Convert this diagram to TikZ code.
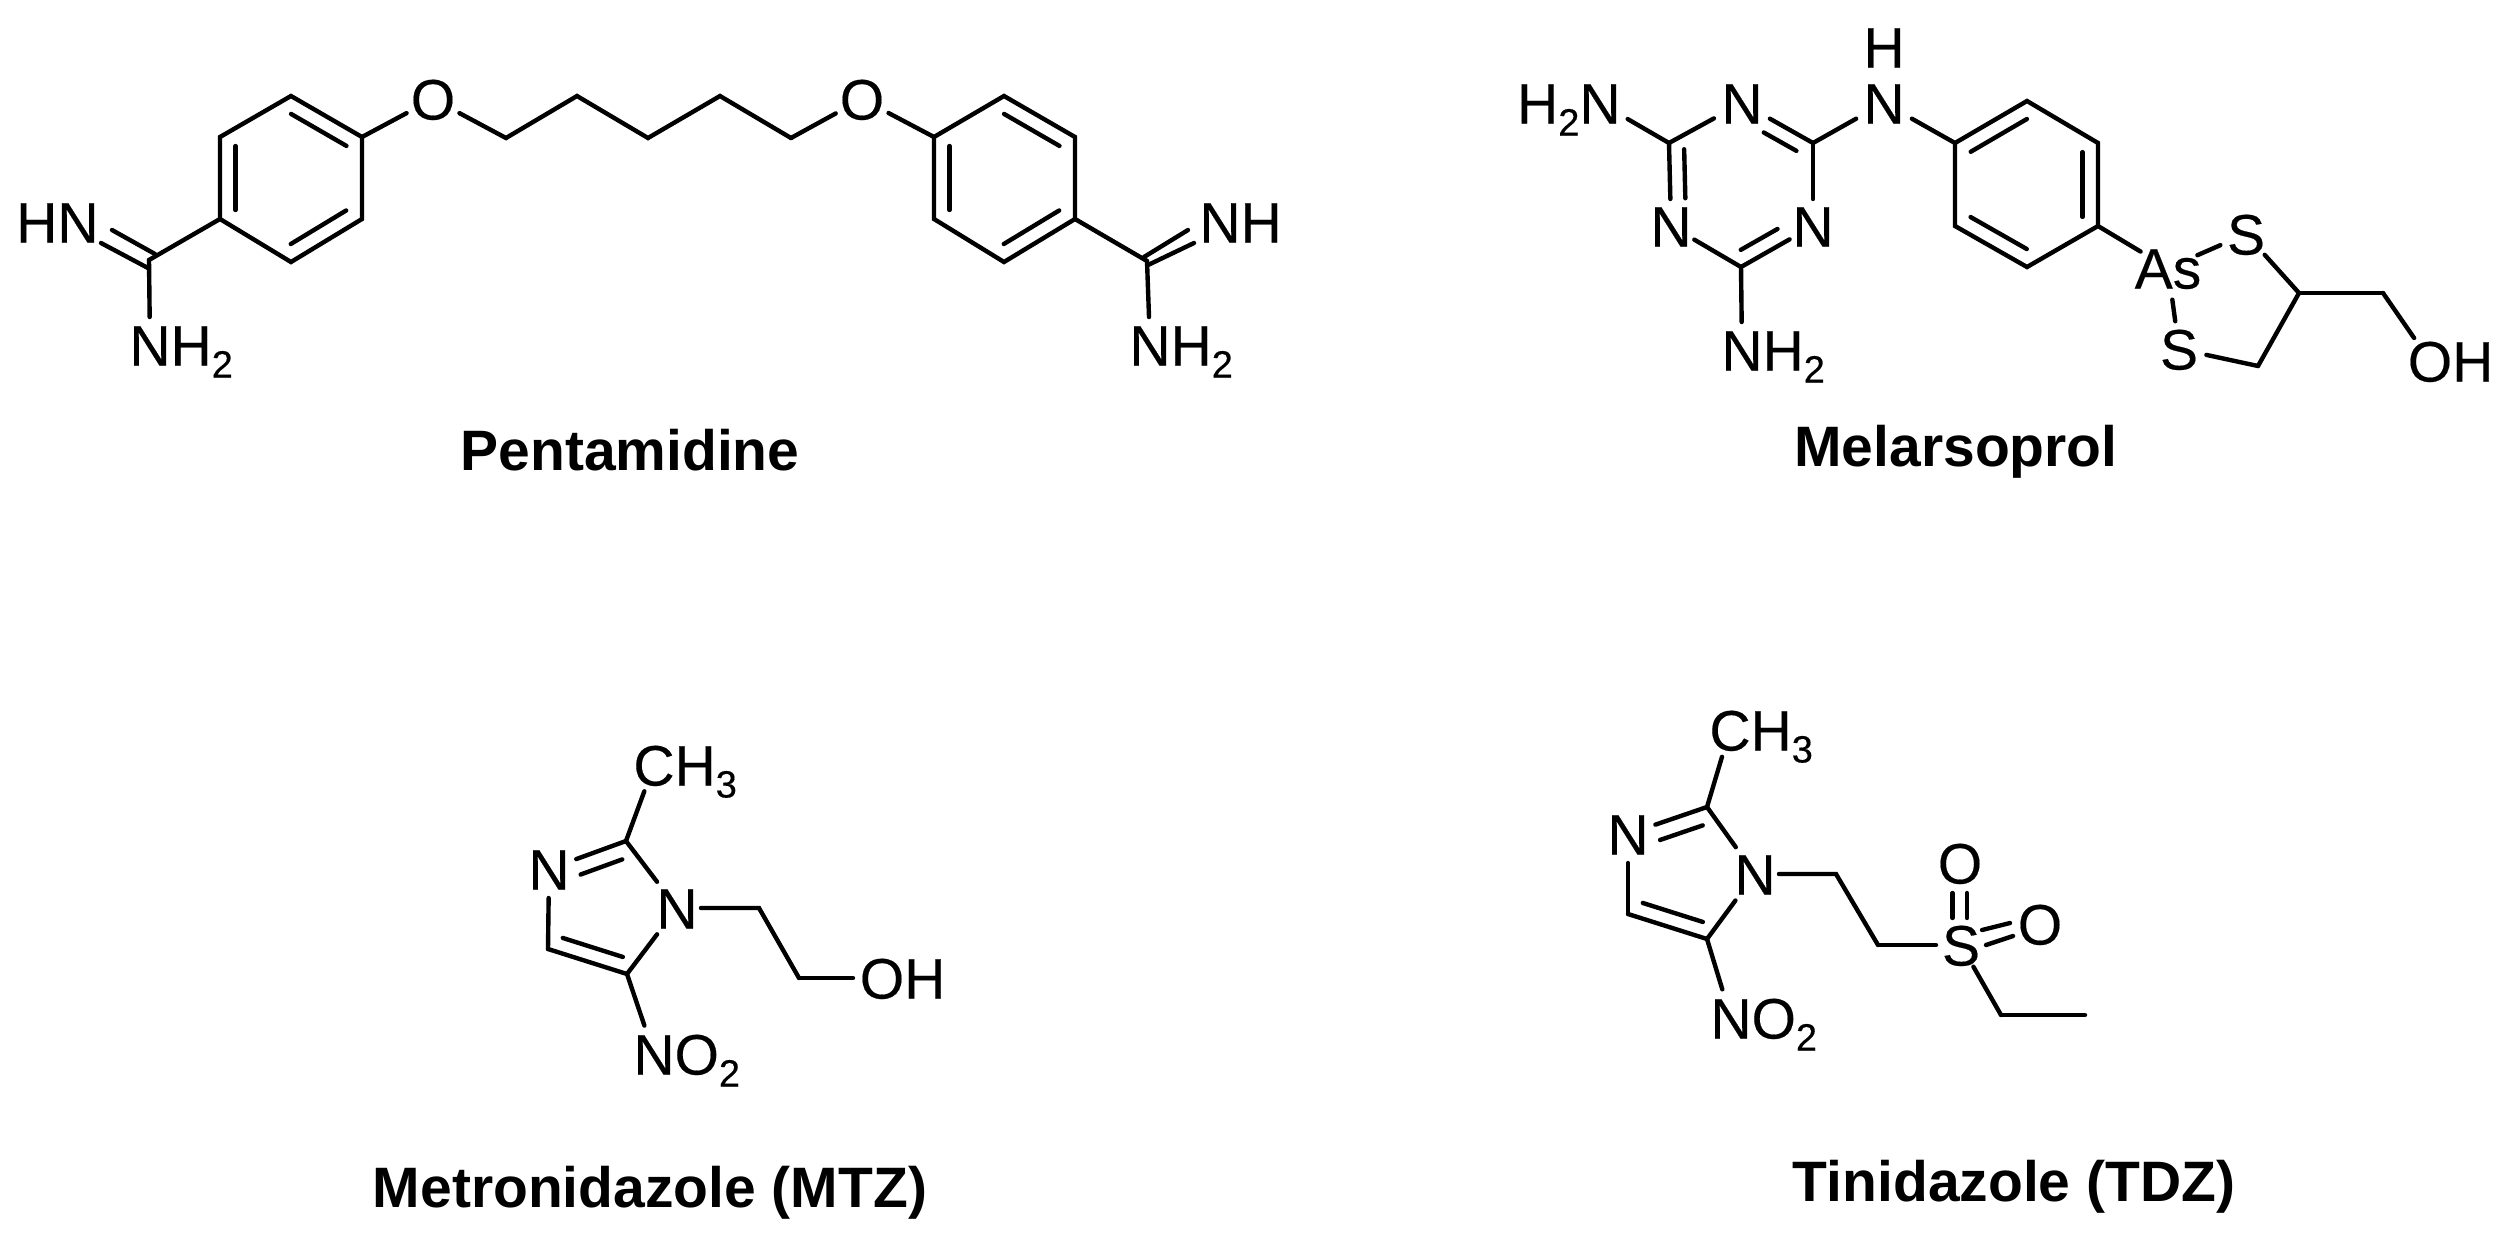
\documentclass[tikz,border=0pt]{standalone}
\usepackage{fontspec}
\setmainfont{Liberation Sans}
\usetikzlibrary{calc}
\newcommand\atm[1]{\makebox[0pt][c]{#1}}
\newcommand\sbs[1]{\raisebox{-12pt}{\fontsize{38}{38}\selectfont\addfontfeature{FakeBold=0.3}#1}}
% second stroke of a double bond: from a to b, fractions t1..t2, offset to the left of travel
\newcommand\inb[5]{\draw[bond] ($(#1)!#3!(#2)!#5pt!90:(#2)$) -- ($(#1)!#4!(#2)!#5pt!90:(#2)$);}
\tikzset{
  bond/.style={line width=4.4pt,line cap=round,line join=miter,black},
  atom/.style={circle,inner sep=0pt,outer sep=0pt,minimum size=60pt,
    font=\fontsize{57}{57}\selectfont\addfontfeature{FakeBold=0.3},text height=41pt,text depth=0pt},
  rad/.style={minimum size=2*#1 pt},
  title/.style={anchor=base,inner sep=0pt,font=\fontsize{57}{57}\selectfont\bfseries}
}
\begin{document}
\begin{tikzpicture}[x=1pt,y=-1pt]
\useasboundingbox (0,0) rectangle (2508,1240);
\fill[white] (0,0) rectangle (2508,1240);
%%% Pentamidine
\foreach \n/\x/\y in {A1/291/96,A2/362/137,A3/362/219,A4/291/262,A5/220/219,A6/220/137,
  c1/506/138,c2/577/96,c3/648/138,c4/720/96,c5/791/138,
  B1/934/137,B2/1004/96,B3/1075/137,B4/1075/219,B5/1004/262,B6/934/219,
  L/149/260,R/1147/261,
  La/101/243,Lb/148/268,Lc/112/230,Ld/155/254,
  Ra/1144/257,Rb/1188/230,Rc/1148/265,Rd/1194/243}
  {\coordinate (\n) at (\x,\y);}
\node[atom] (O1) at (433,99) {\atm{O}};
\node[atom] (O2) at (862,99) {\atm{O}};
\node[atom] (hn) at (78,222) {\atm{\llap{H}N}};
\node[atom] (nhR) at (1220,222) {\atm{N\rlap{H}}};
\node[atom,rad=28] (nh2L) at (150,345) {\atm{N\rlap{H\sbs{2}}}};
\node[atom,rad=28] (nh2R) at (1150,345) {\atm{N\rlap{H\sbs{2}}}};
\draw[bond] (A1)--(A2)--(A3)--(A4)--(A5)--(A6)--cycle;
\inb{A1}{A2}{.11}{.89}{-15.5}
\inb{A3}{A4}{.11}{.89}{-15.5}
\inb{A5}{A6}{.11}{.89}{-15.5}
\draw[bond] (B1)--(B2)--(B3)--(B4)--(B5)--(B6)--cycle;
\inb{B2}{B3}{.11}{.89}{-15.5}
\inb{B4}{B5}{.11}{.89}{-15.5}
\inb{B6}{B1}{.11}{.89}{-15.5}
\draw[bond] (A2)--(O1);
\draw[bond] (O1)--(c1)--(c2)--(c3)--(c4)--(c5);
\draw[bond] (c5)--(O2);
\draw[bond] (O2)--(B1);
\draw[bond] (A5)--(L);
\draw[bond] (L)--(nh2L);
\draw[bond] (La)--(Lb);
\draw[bond] (Lc)--(Ld);
\draw[bond] (B4)--(R);
\draw[bond] (R)--(nh2R);
\draw[bond] (Ra)--(Rb);
\draw[bond] (Rc)--(Rd);
\node[title] (t1) at (630,470) {Pentamidine};
%%% Melarsoprol
\foreach \n/\x/\y in {T1/1669/143,T2/1813/143,T3/1741/267,
  D1/1955/143,D2/2027/101,D3/2098/143,D4/2098/226,D5/2027/267,D6/1955/226,
  E1/2299/293,E2/2258/366,E3/2383/293}
  {\coordinate (\n) at (\x,\y);}
\node[atom,rad=32] (h2n) at (1600,103) {\atm{\llap{H\sbs{2}}N}};
\node[atom,rad=32] (Nt) at (1742,103) {\atm{N}};
\node[atom,rad=32] (Nh) at (1884,103) {\atm{N}};
\node[atom] (Hh) at (1884,47) {\atm{H}};
\node[atom,rad=27] (Nr) at (1813,226) {\atm{N}};
\node[atom,rad=27] (Nl) at (1671,226) {\atm{N}};
\node[atom,rad=28] (nh2M) at (1742,350) {\atm{N\rlap{H\sbs{2}}}};
\node[atom,rad=32] (As) at (2168,268) {\atm{As}};
\node[atom,rad=28] (St) at (2246,234) {\atm{S}};
\node[atom,rad=28] (Sb) at (2179,349) {\atm{S}};
\node[atom,rad=28] (OHm) at (2430,361) {\atm{O\rlap{H}}};
\draw[bond] (h2n)--(T1);
\draw[bond] (T1)--(Nt);
\draw[bond] (Nt)--(T2);
\draw[bond] (T2)--(Nh);
\draw[bond] (T2)--(Nr);
\draw[bond] (Nr)--(T3);
\draw[bond] (T3)--(Nl);
\draw[bond] (Nl)--(T1);
\draw[bond] (T3)--(nh2M);
\inb{Nt}{T2}{.41}{.87}{-15}
\inb{T3}{Nr}{.10}{.61}{15}
\inb{T1}{Nl}{.08}{.67}{15}
\draw[bond] (Nh)--(D1);
\draw[bond] (D1)--(D2)--(D3)--(D4)--(D5)--(D6)--cycle;
\inb{D1}{D2}{.11}{.89}{-15.5}
\inb{D3}{D4}{.11}{.89}{-15.5}
\inb{D5}{D6}{.11}{.89}{-15.5}
\draw[bond] (D4)--(As);
\draw[bond] (As)--(St);
\draw[bond] (As)--(Sb);
\draw[bond] (St)--(E1);
\draw[bond] (E1)--(E2);
\draw[bond] (E2)--(Sb);
\draw[bond] (E1)--(E3);
\draw[bond] (E3)--(OHm);
\node[title] (t2) at (1956,466) {Melarsoprol};
%%% Metronidazole
\foreach \n/\x/\y in {M2/626/841,M4/548/949,M5/627/974,Ma/759/908,Mb/799/978}
  {\coordinate (\n) at (\x,\y);}
\node[atom,rad=29] (MN3) at (549,869) {\atm{N}};
\node[atom,rad=33] (MN1) at (677,908) {\atm{N}};
\node[atom,rad=28] (Mch) at (654,765) {\atm{C\rlap{H\sbs{3}}}};
\node[atom,rad=30] (Mno) at (654,1054) {\atm{N\rlap{O\sbs{2}}}};
\node[atom,rad=29] (MOH) at (882,978) {\atm{O\rlap{H}}};
\draw[bond] (M2)--(Mch);
\draw[bond] (M2)--(MN3);
\draw[bond] (MN3)--(M4);
\draw[bond] (M4)--(M5);
\draw[bond] (M5)--(MN1);
\draw[bond] (MN1)--(M2);
\draw[bond] (M5)--(Mno);
\draw[bond,shorten <=-9pt] (MN1)--(Ma)--(Mb);
\draw[bond] (Mb)--(MOH);
\inb{M2}{MN3}{.12}{.66}{16}
\inb{M4}{M5}{.13}{.89}{15}
\node[title] (t3) at (650,1207) {Metronidazole (MTZ)};
%%% Tinidazole
\foreach \n/\x/\y in {U2/1707/807,U4/1628/914,U5/1707/939,Ua/1836/874,Ub/1878/945,Uc/2001/1015,Ud/2085/1015,
  so1a/1952.5/893,so1b/1952.5/918,so1c/1967/893,so1d/1967/918,
  so2a/1982/930,so2b/2010/923,so2c/1986/945,so2d/2013/936}
  {\coordinate (\n) at (\x,\y);}
\node[atom,rad=29] (UN3) at (1628,834) {\atm{N}};
\node[atom,rad=33] (UN1) at (1755,874) {\atm{N}};
\node[atom,rad=28] (Uch) at (1730,730) {\atm{C\rlap{H\sbs{3}}}};
\node[atom,rad=30] (Uno) at (1731,1018) {\atm{N\rlap{O\sbs{2}}}};
\node[atom,rad=25] (US) at (1961,945) {\atm{S}};
\node[atom] (UO1) at (1960,863) {\atm{O}};
\node[atom] (UO2) at (2040,924) {\atm{O}};
\draw[bond] (U2)--(Uch);
\draw[bond] (U2)--(UN3);
\draw[bond] (UN3)--(U4);
\draw[bond] (U4)--(U5);
\draw[bond] (U5)--(UN1);
\draw[bond] (UN1)--(U2);
\draw[bond] (U5)--(Uno);
\draw[bond,shorten <=-9pt] (UN1)--(Ua)--(Ub);
\draw[bond] (Ub)--(US);
\draw[bond] (US)--(Uc);
\draw[bond] (Uc)--(Ud);
\draw[bond] (so1a)--(so1b);
\draw[bond] (so1c)--(so1d);
\draw[bond] (so2a)--(so2b);
\draw[bond] (so2c)--(so2d);
\inb{U2}{UN3}{.12}{.66}{16}
\inb{U4}{U5}{.13}{.89}{15}
\node[title] (t4) at (2014,1201) {Tinidazole (TDZ)};
\end{tikzpicture}
\end{document}
